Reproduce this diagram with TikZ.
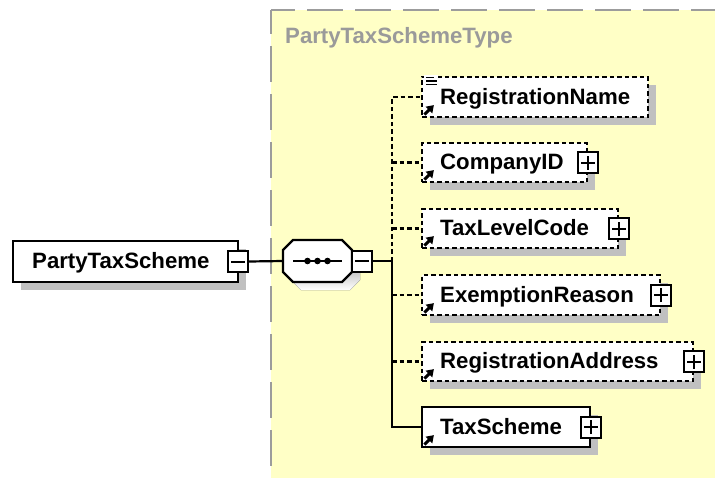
\documentclass[tikz,border=0pt]{standalone}
\usepackage{fontspec}
\setmainfont{Liberation Sans}
\usetikzlibrary{shadows,calc,arrows.meta}

\definecolor{panel}{HTML}{FFFFC6}
\definecolor{panelborder}{HTML}{9C9C9C}
\definecolor{shade}{HTML}{C0C0C0}
\definecolor{titlegray}{HTML}{9A9A9A}

\tikzset{
  elemfont/.style={font=\fontsize{22.2}{25}\selectfont\bfseries, inner sep=0pt, anchor=base west},
  box/.style={draw=black, line width=2.2pt, fill=white, inner sep=0pt,
    drop shadow={shadow xshift=8pt, shadow yshift=-8pt, fill=shade, opacity=1}},
  optbox/.style={box, dash pattern=on 4.5pt off 3pt},
  pmbox/.style={draw=black, line width=2pt, fill=white, inner sep=0pt, minimum width=20pt, minimum height=21pt},
  plusbox/.style={pmbox, path picture={
    \draw[line width=2pt] ([xshift=-7pt]path picture bounding box.center) -- ([xshift=7pt]path picture bounding box.center)
      ([yshift=-7pt]path picture bounding box.center) -- ([yshift=7pt]path picture bounding box.center);}},
  minusbox/.style={pmbox, path picture={
    \draw[line width=2pt] ([xshift=-7pt]path picture bounding box.center) -- ([xshift=7pt]path picture bounding box.center);}},
  conn/.style={draw=black, line width=2.2pt},
  optconn/.style={conn, dash pattern=on 4.5pt off 3pt},
  refarrow/.style={line width=3pt, -{Triangle[length=7pt,width=9pt]}},
}

\begin{document}
\begin{tikzpicture}[x=1pt, y=-1pt]
  \useasboundingbox (0,0) rectangle (715,477);
  \clip (0,0) rectangle (715,477);

  % complex type panel
  \fill[panel] (271,10) rectangle (720,482);
  \draw[panelborder, line width=2.4pt, dash pattern=on 36pt off 12pt, dash phase=12pt] (271,10) -- (720,10);
  \draw[panelborder, line width=2.4pt, dash pattern=on 36pt off 12pt, dash phase=12pt] (271,10) -- (271,482);
  \node[elemfont, text=titlegray] (title) at (285,43) {PartyTaxSchemeType};

  % root element
  \node[box, minimum width=225pt, minimum height=41pt] (pts) at (125.5,261.5) {};
  \node[elemfont] (ptst) at (32,268.5) {PartyTaxScheme};
  \node[minusbox] (ptsm) at (238,261.5) {};

  % sequence compositor
  \node[inner sep=0pt, minimum width=69pt, minimum height=42pt] (seq) at (317.5,261) {};
  \fill[shade] (291,258) -- (301,248) -- (350,248) -- (360,258) -- (360,280) -- (350,290) -- (301,290) -- (291,280) -- cycle;
  \draw[line width=2.2pt, fill=white] (283,250) -- (293,240) -- (342,240) -- (352,250) -- (352,272) -- (342,282) -- (293,282) -- (283,272) -- cycle;
  \draw[line width=2pt] (293,261) -- (342,261);
  \fill (307.5,261) circle (3.3pt) (317.5,261) circle (3.3pt) (327.5,261) circle (3.3pt);
  \node[minusbox] (seqm) at (362,261) {};
  \coordinate (fork) at (392,261);

  % child elements
  \node[optbox, minimum width=226pt, minimum height=40pt] (rn) at (535,97) {};
  \node[elemfont] (rnt) at (440,104) {RegistrationName};

  \node[optbox, minimum width=165pt, minimum height=39pt] (cid) at (504.5,162.5) {};
  \node[elemfont] (cidt) at (440,169.5) {CompanyID};
  \node[plusbox] (cidp) at (cid.east) {};

  \node[optbox, minimum width=196pt, minimum height=39pt] (tlc) at (520,228.5) {};
  \node[elemfont] (tlct) at (440,235.5) {TaxLevelCode};
  \node[plusbox] (tlcp) at (tlc.east) {};

  \node[optbox, minimum width=238pt, minimum height=40pt] (er) at (541,295) {};
  \node[elemfont] (ert) at (440,302) {ExemptionReason};
  \node[plusbox] (erp) at (er.east) {};

  \node[optbox, minimum width=271pt, minimum height=39pt] (ra) at (557.5,361.5) {};
  \node[elemfont] (rat) at (440,368.5) {RegistrationAddress};
  \node[plusbox] (rap) at (ra.east) {};

  \node[box, minimum width=168pt, minimum height=40pt] (ts) at (506,427) {};
  \node[elemfont] (tst) at (440,434) {TaxScheme};
  \node[plusbox] (tsp) at (ts.east) {};

  % reference arrows in the child elements
  \foreach \e in {rn,cid,tlc,er,ra,ts}
    \draw[refarrow] ($(\e.south west)+(3.5,-3.5)$) -- ($(\e.south west)+(13,-13)$);

  % simple content mark
  \fill[white] ($(rn.north west)+(3,-1)$) rectangle ($(rn.north west)+(17,11)$);
  \draw[line width=1.4pt]
    ($(rn.north west)+(5,1.5)$) -- +(8,0)
    ($(rn.north west)+(5,5)$) -- +(11,0)
    ($(rn.north west)+(5,8.5)$) -- +(11,0);

  % connectors
  \draw[conn] (ptsm.east) -- (seq.west);
  \draw[conn] (seqm.east) -- (fork);
  \draw[optconn] (fork) |- (rn.west);
  \draw[optconn] (fork |- cid.west) -- (cid.west);
  \draw[optconn] (fork |- tlc.west) -- (tlc.west);
  \draw[optconn] (fork |- er.west) -- (er.west);
  \draw[optconn] (fork |- ra.west) -- (ra.west);
  \draw[conn] (fork) |- (ts.west);
\end{tikzpicture}
\end{document}
